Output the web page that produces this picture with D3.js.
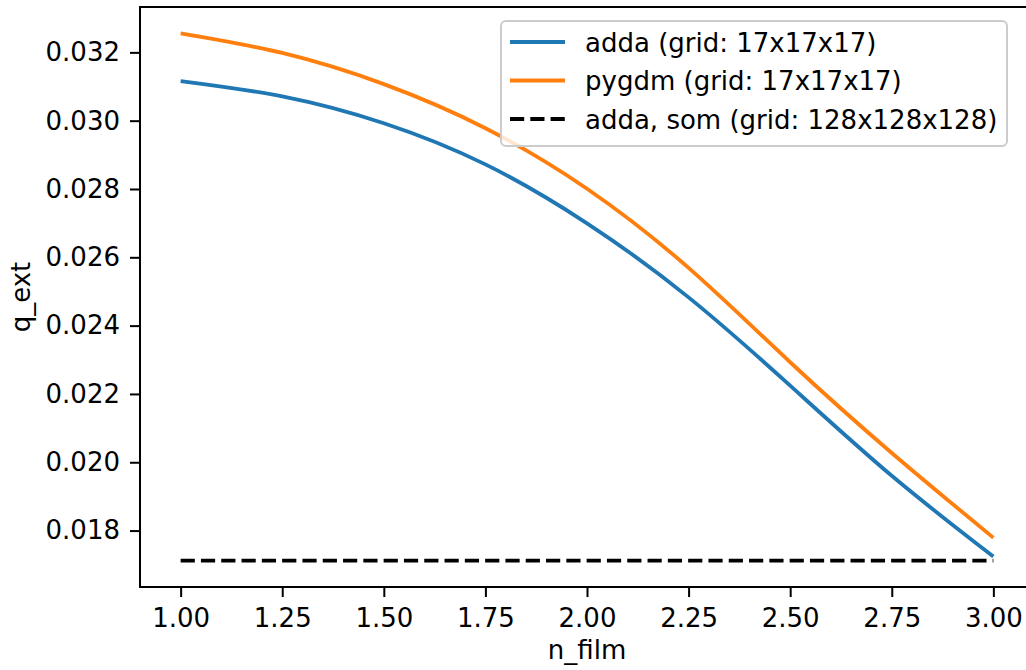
<!DOCTYPE html>
<html>
<head>
<meta charset="utf-8">
<script src="https://cdn.jsdelivr.net/npm/d3@7"></script>
<style>
  html, body { margin: 0; padding: 0; background: #fff; }
  svg { display: block; }
  text { font-family: "DejaVu Sans", sans-serif; }
</style>
</head>
<body>
<svg id="chart" width="1026" height="670"></svg>
<script>
// ---- data ----
const nFilm = [1.0, 1.25, 1.5, 1.75, 2.0, 2.25, 2.5, 2.75, 3.0];
const addaQext = [0.03116, 0.03071, 0.029925, 0.02872, 0.026995, 0.024827, 0.022243, 0.019603, 0.017238];
const pygdmQext = [0.032556, 0.031982, 0.031069, 0.02978, 0.028008, 0.02569, 0.022928, 0.020273, 0.017792];
const addaSomX = [1.0, 3.0];
const addaSomQext = [0.01712, 0.01712];
const xTicks = [1.0, 1.25, 1.5, 1.75, 2.0, 2.25, 2.5, 2.75, 3.0];
const yTicks = [0.018, 0.020, 0.022, 0.024, 0.026, 0.028, 0.030, 0.032];
const seriesNames = ["adda (grid: 17x17x17)", "pygdm (grid: 17x17x17)", "adda, som (grid: 128x128x128)"];
const xLabel = "n_film";
const yLabel = "q_ext";

// ---- layout ----
const svg = d3.select("#chart");
const L = 140, R = 1034, T = 7, B = 587;
const fs = 26;

const allY = addaQext.concat(pygdmQext, addaSomQext);
const yMin = d3.min(allY), yMax = d3.max(allY);
const yPad = (yMax - yMin) * 0.05;
const x = d3.scaleLinear().domain([0.9, 3.1]).range([L, R]);
const y = d3.scaleLinear().domain([yMin - yPad, yMax + yPad]).range([B, T]);

const line = d3.line().x(d => x(d[0])).y(d => y(d[1])).curve(d3.curveNatural);

const plot = svg.append("g");
plot.append("path")
  .datum(nFilm.map((v, i) => [v, addaQext[i]]))
  .attr("d", line).attr("fill", "none").attr("stroke", "#1f77b4").attr("stroke-width", 3.8);
plot.append("path")
  .datum(nFilm.map((v, i) => [v, pygdmQext[i]]))
  .attr("d", line).attr("fill", "none").attr("stroke", "#ff7f0e").attr("stroke-width", 3.8);
plot.append("path")
  .datum(addaSomX.map((v, i) => [v, addaSomQext[i]]))
  .attr("d", d3.line().x(d => x(d[0])).y(d => y(d[1])))
  .attr("fill", "none").attr("stroke", "#000").attr("stroke-width", 3.8)
  .attr("stroke-dasharray", "14.2,6.1");

// axes
const xAxis = svg.append("g").attr("transform", `translate(0,${B})`)
  .call(d3.axisBottom(x).tickValues(xTicks).tickFormat(d3.format(".2f")).tickSize(10).tickPadding(12));
const yAxis = svg.append("g").attr("transform", `translate(${L},0)`)
  .call(d3.axisLeft(y).tickValues(yTicks).tickFormat(d3.format(".3f")).tickSize(10).tickPadding(10));
[xAxis, yAxis].forEach(g => {
  g.select(".domain").remove();
  g.selectAll(".tick line").attr("stroke", "#000").attr("stroke-width", 2);
  g.selectAll(".tick text").attr("fill", "#000")
    .style("font-family", '"DejaVu Sans", sans-serif').style("font-size", fs + "px");
});

// frame
svg.append("rect").attr("x", L).attr("y", T).attr("width", R - L).attr("height", B - T)
  .attr("fill", "none").attr("stroke", "#000").attr("stroke-width", 2);

// labels
svg.append("text").attr("x", (L + R) / 2).attr("y", 659).attr("text-anchor", "middle")
  .style("font-size", fs + "px").text(xLabel);
svg.append("text").attr("transform", `translate(30,${(T + B) / 2}) rotate(-90)`)
  .attr("text-anchor", "middle").style("font-size", fs + "px").text(yLabel);

// legend
const lg = svg.append("g");
lg.append("rect").attr("x", 501).attr("y", 21).attr("width", 506).attr("height", 125)
  .attr("rx", 5).attr("fill", "#fff").attr("fill-opacity", 0.8)
  .attr("stroke", "#cccccc").attr("stroke-width", 2);
const legendStyles = [
  { color: "#1f77b4", dash: null },
  { color: "#ff7f0e", dash: null },
  { color: "#000", dash: "14.2,6.1" }
];
const rowY = [42, 80.5, 119];
seriesNames.forEach((name, i) => {
  const ln = lg.append("line").attr("x1", 510).attr("x2", 565).attr("y1", rowY[i]).attr("y2", rowY[i])
    .attr("stroke", legendStyles[i].color).attr("stroke-width", 3.8);
  if (legendStyles[i].dash) ln.attr("stroke-dasharray", legendStyles[i].dash);
  lg.append("text").attr("x", 585).attr("y", rowY[i] + 9.5).style("font-size", fs + "px").text(name);
});
</script>
</body>
</html>
